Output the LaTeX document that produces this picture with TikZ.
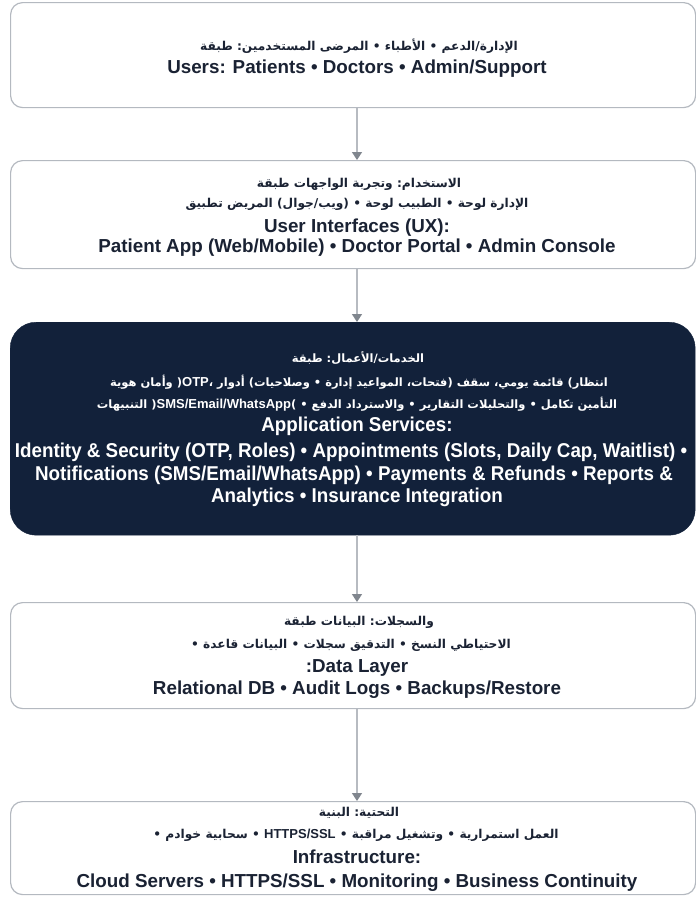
\documentclass[tikz,border=0pt]{standalone}
\usepackage{fontspec}
\setmainfont{Liberation Sans}
\newfontfamily\enfont{Liberation Sans}
\newfontfamily\arabicfont[Script=Arabic]{DejaVu Sans}
\newfontfamily\condfont[FakeStretch=0.94]{Liberation Sans}
\usetikzlibrary{arrows.meta}
\definecolor{boxline}{HTML}{B4B9C0}
\definecolor{darknavy}{HTML}{12213A}
\definecolor{textnavy}{HTML}{1A2233}
\definecolor{arrowline}{HTML}{B7BBC1}
\definecolor{arrowtip}{HTML}{80868E}
\newcommand\lat[1]{{\enfont\bfseries\fontsize{13}{16}\selectfont #1}}
% words laid out one after the other from left to right, as the reference shows them
\makeatletter
\def\ltrwords#1{\ltrw@#1 \@nil}
\def\ltrw@#1 #2\@nil{\hbox{#1}\if\relax\detokenize{#2}\relax\else\ \ltrw@#2\@nil\fi}
\makeatother
\tikzset{
  layer/.style={draw=boxline, line width=1.2pt, rounded corners=12pt, fill=white, minimum width=685pt, anchor=north west, inner sep=0pt},
  darklayer/.style={draw=darknavy, fill=darknavy, rounded corners=26pt, minimum width=685pt, anchor=north west, inner sep=0pt},
  artxt/.style={anchor=base, inner sep=0pt, text=textnavy, font=\arabicfont\bfseries\fontsize{12.2}{16}\selectfont},
  entxt/.style={anchor=base, inner sep=0pt, text=textnavy, font=\enfont\bfseries\fontsize{18.8}{22}\selectfont},
  darkar/.style={artxt, text=white, font=\arabicfont\bfseries\fontsize{11.5}{16}\selectfont},
  darken/.style={entxt, text=white, font=\condfont\bfseries\fontsize{20}{22}\selectfont},
  flow/.style={draw=arrowline, line width=1.5pt, -{Triangle[width=10pt,length=8pt,color=arrowtip]}}
}
\begin{document}
\begin{tikzpicture}[x=1pt,y=-1pt]
\useasboundingbox (0,0) rectangle (696,897);
% boxes
\node[layer, minimum height=105pt] (b1) at (10,2) {};
\node[layer, minimum height=108pt] (b2) at (10,160) {};
\node[darklayer, minimum height=213pt] (b3) at (10,322) {};
\node[layer, minimum height=106pt] (b4) at (10,602) {};
\node[layer, minimum height=93pt] (b5) at (10,801) {};
% box 1
\node[artxt] (t1a) at (359,50) {\ltrwords{طبقة المستخدمين: المرضى • الأطباء • الإدارة/الدعم}};
\node[entxt] (t1b) at (357,73) {Users: Patients • Doctors • Admin/Support};
% box 2
\node[artxt] (t2a) at (359,187) {\ltrwords{طبقة الواجهات وتجربة الاستخدام:}};
\node[artxt] (t2b) at (357,207) {\ltrwords{تطبيق المريض (ويب/جوال) • لوحة الطبيب • لوحة الإدارة}};
\node[entxt] (t2c) at (357,232) {User Interfaces (UX):};
\node[entxt] (t2d) at (357,252) {Patient App (Web/Mobile) • Doctor Portal • Admin Console};
% box 3
\node[darkar] (t3a) at (358,362) {\ltrwords{طبقة الخدمات/الأعمال:}};
\node[darkar] (t3b) at (359,386) {\ltrwords{هوية وأمان (\lat{OTP}، أدوار وصلاحيات) • إدارة المواعيد (فتحات، سقف يومي، قائمة انتظار)}};
\node[darkar] (t3c) at (357,408) {\ltrwords{التنبيهات (\lat{SMS/Email/WhatsApp}) • الدفع والاسترداد • التقارير والتحليلات • تكامل التأمين}};
\node[darken] (t3d) at (357,431) {Application Services:};
\node[darken] (t3e) at (351,457) {Identity \& Security (OTP, Roles) • Appointments (Slots, Daily Cap, Waitlist) •};
\node[darken] (t3f) at (354,480) {Notifications (SMS/Email/WhatsApp) • Payments \& Refunds • Reports \&};
\node[darken] (t3g) at (357,502) {Analytics • Insurance Integration};
% box 4
\node[artxt] (t4a) at (359,625) {\ltrwords{طبقة البيانات والسجلات:}};
\node[artxt] (t4b) at (351,648) {\ltrwords{• قاعدة البيانات • سجلات التدقيق • النسخ الاحتياطي}};
\node[entxt] (t4c) at (357,672) {:Data Layer};
\node[entxt] (t4d) at (357,694) {Relational DB • Audit Logs • Backups/Restore};
% box 5
\node[artxt] (t5a) at (359,816) {\ltrwords{البنية التحتية:}};
\node[artxt] (t5b) at (356,838) {\ltrwords{• خوادم سحابية • \lat{HTTPS/SSL} • مراقبة وتشغيل • استمرارية العمل}};
\node[entxt] (t5c) at (357,863) {Infrastructure:};
\node[entxt] (t5d) at (357,887) {Cloud Servers • HTTPS/SSL • Monitoring • Business Continuity};
% arrows
\draw[flow] (t1b |- b1.south) -- (t1b |- b2.north);
\draw[flow] (t1b |- b2.south) -- (t1b |- b3.north);
\draw[flow] (t1b |- b3.south) -- (t1b |- b4.north);
\draw[flow] (t1b |- b4.south) -- (t1b |- b5.north);
\end{tikzpicture}
\end{document}
